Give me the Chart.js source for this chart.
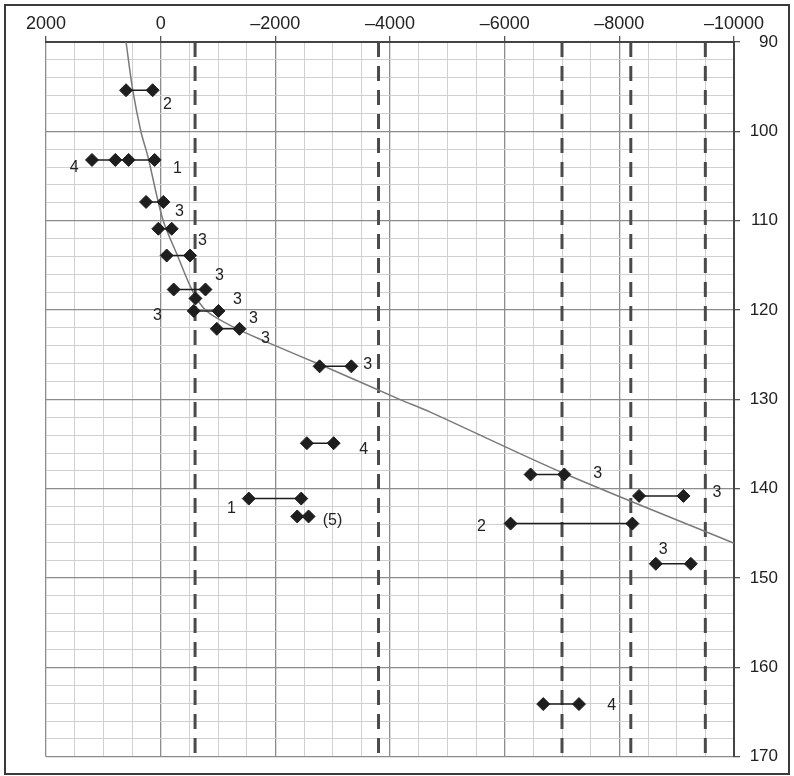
<!DOCTYPE html>
<html>
<head>
<meta charset="utf-8">
<script src="https://cdn.jsdelivr.net/npm/chart.js@4"></script>
<style>
  html, body { margin: 0; padding: 0; background: #fff; }
  #wrap { position: relative; width: 794px; height: 776px; }
</style>
</head>
<body>
<div id="wrap"><canvas id="chart" width="794" height="776"></canvas></div>
<script>
// --- DONNÉES ---
const xTicks = [2000, 0, -2000, -4000, -6000, -8000, -10000];
const yTicks = [90, 100, 110, 120, 130, 140, 150, 160, 170];

// une ligne = une profondeur, avec ses valeurs (losanges reliés)
const rowY = [95.4, 103.2, 107.9, 110.9, 113.9, 117.7, 118.7, 120.1, 122.1,
              126.3, 134.9, 141.1, 143.1, 138.4, 140.8, 143.9, 148.4, 164.1];
const rowX = [
  [604, 140],
  [1198, 791, 559, 105],
  [255, -47],
  [40, -192],
  [-105, -513],
  [-227, -781],
  [-606],
  [-577, -1008],
  [-979, -1375],
  [-2772, -3326],
  [-2550, -3017],
  [-1537, -2452],
  [-2382, -2580],
  [-6452, -7040],
  [-8344, -9118],
  [-6103, -8227],
  [-8636, -9247],
  [-6673, -7296]
];

// courbe grise
const curveX = [604, 489, 342, 227, -35, -300, -559, -800, -1300, -1782, -2889, -4168, -4693, -7040, -10000];
const curveY = [90, 95.3, 100.1, 102.7, 109.8, 114.0, 117.9, 120.1, 122.0, 123.4, 126.4, 130.0, 131.4, 138.3, 146.1];

// lignes verticales en tirets
const dashX = [-600, -3800, -7000, -8200, -9500];

// étiquettes
const labelText = ['2', '4', '1', '3', '3', '3', '3', '3', '3', '3', '3', '4', '1', '(5)', '3', '3', '2', '3', '4'];
const labelX = [-117, 1506, -292, -327, -728, -1025, -1340, 58, -1619, -1829, -3611, -3541, -1235, -2998, -7623, -9701, -5597, -8763, -7867];
const labelY = [97.0, 104.1, 104.2, 109.0, 112.2, 116.1, 118.8, 120.6, 121.0, 123.2, 126.1, 135.6, 142.2, 143.6, 138.3, 140.4, 144.2, 146.8, 164.3];

const FONT = '"Liberation Sans", Arial, Helvetica, sans-serif';

function fmt(v) {
  return v < 0 ? '\u2013' + Math.abs(v) : String(v);
}

// --- DATASETS ---
const datasets = [];

rowX.forEach((xs, i) => {
  datasets.push({
    data: xs.map(x => ({ x: x, y: rowY[i] })),
    showLine: true,
    borderColor: '#1e1e1e',
    borderWidth: 1.5,
    backgroundColor: '#1e1e1e',
    pointStyle: 'rectRot',
    pointRadius: 6.5,
    pointBorderWidth: 1,
    pointBorderColor: '#1e1e1e',
    pointBackgroundColor: '#1e1e1e',
    order: 0
  });
});

datasets.push({
  data: curveX.map((x, i) => ({ x: x, y: curveY[i] })),
  showLine: true,
  borderColor: '#7a7a7a',
  borderWidth: 1.5,
  pointRadius: 0,
  tension: 0.3,
  order: 2
});

dashX.forEach(x => {
  datasets.push({
    data: [{ x: x, y: 90 }, { x: x, y: 170 }],
    showLine: true,
    borderColor: '#4a4a4a',
    borderWidth: 3,
    borderDash: [15, 9],
    pointRadius: 0,
    order: 3
  });
});

// --- PLUGINS ---
const frame = {
  id: 'frame',
  beforeDraw(chart) {
    const ctx = chart.ctx;
    ctx.save();
    ctx.fillStyle = '#fff';
    ctx.fillRect(0, 0, chart.width, chart.height);
    ctx.strokeStyle = '#3a3a3a';
    ctx.lineWidth = 2;
    ctx.strokeRect(5, 5, 784, 769);
    ctx.restore();
  }
};

const labels = {
  id: 'labels',
  afterDatasetsDraw(chart) {
    const ctx = chart.ctx;
    const sx = chart.scales.x, sy = chart.scales.y;
    ctx.save();
    ctx.fillStyle = '#222';
    ctx.font = '16px ' + FONT;
    ctx.textAlign = 'center';
    ctx.textBaseline = 'middle';
    labelText.forEach((t, i) => {
      ctx.fillText(t, sx.getPixelForValue(labelX[i]), sy.getPixelForValue(labelY[i]));
    });
    ctx.restore();
  }
};

// --- GRAPHIQUE ---
new Chart(document.getElementById('chart'), {
  type: 'scatter',
  data: { datasets: datasets },
  plugins: [frame, labels],
  options: {
    responsive: false,
    animation: false,
    layout: { padding: { left: 46, right: 16, top: 0, bottom: 14 } },
    plugins: { legend: { display: false }, tooltip: { enabled: false } },
    scales: {
      x: {
        type: 'linear',
        position: 'top',
        min: -10000,
        max: 2000,
        reverse: true,
        afterFit: s => { s.height = 42; },
        ticks: {
          stepSize: 500,
          autoSkip: false,
          maxRotation: 0,
          padding: 1,
          color: '#222',
          font: { family: FONT, size: 18 },
          callback: v => xTicks.includes(v) ? fmt(v) : ''
        },
        grid: {
          color: c => c.tick && xTicks.includes(c.tick.value) ? '#8c8c8c' : '#d0d0d0',
          lineWidth: c => c.tick && xTicks.includes(c.tick.value) ? 1.3 : 1,
          tickColor: c => c.tick && xTicks.includes(c.tick.value) ? '#555' : 'rgba(0,0,0,0)',
          tickLength: 6
        },
        border: { color: '#444', width: 2 }
      },
      y: {
        type: 'linear',
        position: 'right',
        min: 90,
        max: 170,
        reverse: true,
        afterFit: s => { s.width = 44; },
        ticks: {
          stepSize: 2,
          autoSkip: false,
          padding: 9,
          crossAlign: 'far',
          color: '#222',
          font: { family: FONT, size: 17 },
          callback: v => yTicks.includes(v) ? String(v) : ''
        },
        grid: {
          color: c => c.tick && yTicks.includes(c.tick.value) ? '#8c8c8c' : '#d0d0d0',
          lineWidth: c => c.tick && yTicks.includes(c.tick.value) ? 1.3 : 1,
          tickColor: c => c.tick && yTicks.includes(c.tick.value) ? '#555' : 'rgba(0,0,0,0)',
          tickLength: 6
        },
        border: { color: '#444', width: 2 }
      }
    }
  }
});
</script>
</body>
</html>
